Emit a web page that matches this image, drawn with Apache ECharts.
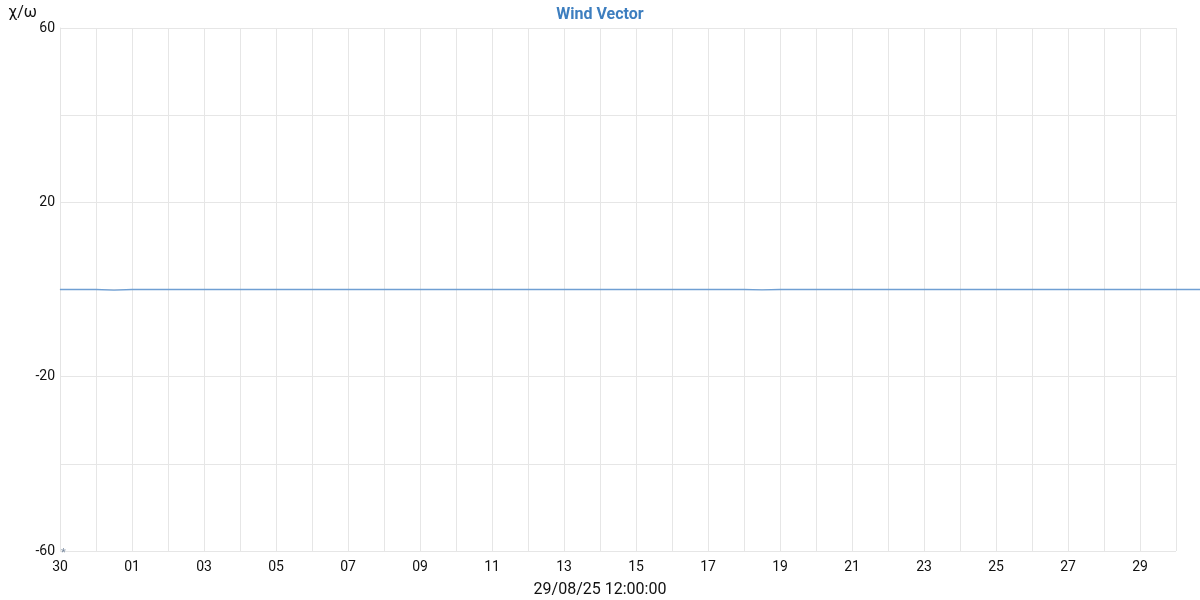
<!DOCTYPE html>
<html>
<head>
<meta charset="utf-8">
<script src="https://cdn.jsdelivr.net/npm/echarts@6/dist/echarts.min.js"></script>
<style>html,body{margin:0;padding:0;background:#fff}#c{width:1200px;height:600px}</style>
</head>
<body>
<div id="c"></div>
<script>
const chartTitle = 'Wind Vector';
const yAxisName = 'χ/ω';
const xAxisName = '29/08/25 12:00:00';
const startTime = Date.UTC(2025, 7, 30);   // 30 Aug 2025
const endTime = Date.UTC(2025, 8, 30);     // 30 Sep 2025
const stepHours = 12;
// Wind vector values every 12 hours from 30 Aug 00:00
const windValues = [
  0, 0, 0, -0.15, 0, 0, 0, 0, 0, 0,
  0, 0, 0, 0, 0, 0, 0, 0, 0, 0,
  0, 0, 0, 0, 0, 0, 0, 0, 0, 0,
  0, 0, 0, 0, 0, 0, 0, 0, 0, -0.1,
  0, 0, 0, 0, 0, 0, 0, 0, 0, 0,
  0, 0, 0, 0, 0, 0, 0, 0, 0, 0,
  0, 0, 0, 0, 0
];
const yTicks = [-60, -40, -20, 0, 20, 40, 60];
const yLabelled = [-60, -20, 20, 60];

const DAY = 86400000;
const seriesData = windValues.map((v, i) => [startTime + i * stepHours * 3600000, v]);

// layout
const GL = 60, GR = 24, GT = 28, GB = 49, W = 1200;
const plotW = W - GL - GR;
// the data line runs past the plot frame up to the page edge: same scale, wider frame
const extMax = startTime + (endTime - startTime) * (W - GL) / plotW;

const chart = echarts.init(document.getElementById('c'));
chart.setOption({
  animation: false,
  textStyle: { fontFamily: 'Roboto' },
  title: [
    {
      text: chartTitle, left: 'center', top: 2,
      textStyle: { color: '#3d7ebf', fontSize: 16, fontWeight: 'bold', fontFamily: 'Roboto' }
    },
    {
      text: xAxisName, left: 'center', top: 582, padding: 0,
      textStyle: { color: '#111', fontSize: 16, fontWeight: 'normal', fontFamily: 'Roboto' }
    }
  ],
  grid: [
    { left: GL, right: GR, top: GT, bottom: GB, outerBoundsMode: 'none', containLabel: false },
    { left: GL, right: 0, top: GT, bottom: GB, outerBoundsMode: 'none', containLabel: false }
  ],
  xAxis: [
    {
      type: 'value', gridIndex: 0,
      min: startTime, max: endTime, interval: DAY,
      axisLine: { show: true, lineStyle: { color: '#e4e4e4' } },
      axisTick: { show: false },
      splitLine: { show: true, lineStyle: { color: '#e6e6e6', width: 1 } },
      axisLabel: {
        color: '#111', fontSize: 14, margin: 9, showMaxLabel: true, showMinLabel: true,
        formatter: function (v) {
          const idx = Math.round((v - startTime) / DAY);
          if (idx % 2 !== 0) return '';
          const d = new Date(v).getUTCDate();
          return (d < 10 ? '0' : '') + d;
        }
      }
    },
    {
      type: 'value', gridIndex: 1, show: false,
      min: startTime, max: extMax,
      splitLine: { show: false }
    }
  ],
  yAxis: [
    {
      type: 'value', gridIndex: 0,
      min: yTicks[0], max: yTicks[yTicks.length - 1], interval: 20,
      name: yAxisName, nameLocation: 'end', nameGap: 7,
      nameTextStyle: { color: '#111', fontSize: 16, align: 'right', padding: [0, 23, 0, 0] },
      axisLine: { show: true, lineStyle: { color: '#e4e4e4' } },
      axisTick: { show: false },
      splitLine: { show: true, lineStyle: { color: '#e6e6e6', width: 1 } },
      axisLabel: {
        color: '#111', fontSize: 14, margin: 5,
        formatter: function (v) { return yLabelled.indexOf(v) >= 0 ? String(v) : ''; }
      }
    },
    {
      type: 'value', gridIndex: 1, show: false,
      min: yTicks[0], max: yTicks[yTicks.length - 1], interval: 20,
      splitLine: { show: false }
    }
  ],
  series: [
    {
      type: 'line',
      xAxisIndex: 1, yAxisIndex: 1,
      data: seriesData,
      showSymbol: false,
      clip: false,
      lineStyle: { color: '#6f9fd3', width: 1.3 },
      itemStyle: { color: '#6f9fd3' }
    },
    {
      type: 'scatter',
      xAxisIndex: 0, yAxisIndex: 0,
      data: [[startTime, yTicks[0]]],
      symbolSize: 0,
      silent: true,
      label: {
        show: true, formatter: '*', position: 'insideTopLeft',
        offset: [-4, -8], color: '#5a6f8a', fontSize: 11
      }
    }
  ]
});
</script>
</body>
</html>
